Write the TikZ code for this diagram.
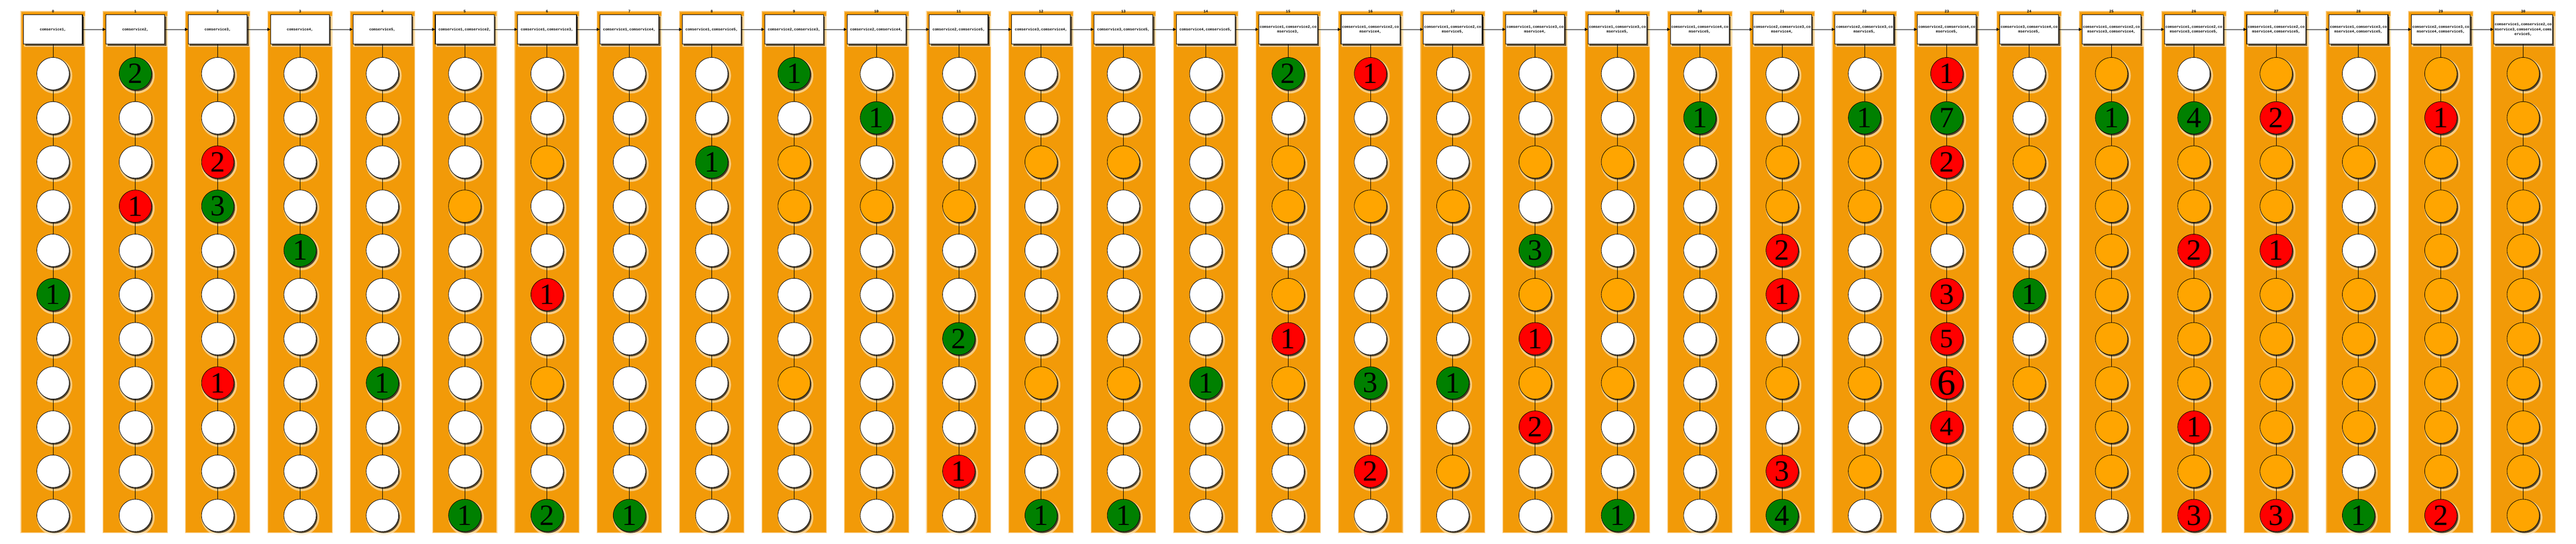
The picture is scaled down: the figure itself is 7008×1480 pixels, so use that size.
\documentclass[tikz,border=0pt]{standalone}
\usepackage{fontspec}
\setmonofont{Liberation Mono}
\newfontfamily\digfont{Liberation Serif}
\usetikzlibrary{shadows,arrows.meta}
\definecolor{colbg}{RGB}{242,154,8}
\definecolor{orfill}{RGB}{255,165,0}
\definecolor{gfill}{RGB}{0,128,0}
\definecolor{rfill}{RGB}{255,0,0}
\definecolor{halo}{RGB}{255,238,210}
\newcommand\mycol[3]{%
  \pgfmathsetmacro\cx{144.3+224*#1}%
  \fill[colbg,opacity=0.3] (\cx-89,30) rectangle (\cx+89,1451);
  \fill[colbg,opacity=0.6] (\cx-87.5,31.5) rectangle (\cx+87.5,1449.5);
  \fill[colbg] (\cx-86,33) rectangle (\cx+86,1448);
  \node[lbl] (l#1) at (\cx,31) {#1};
  \node[hdr] (h#1) at (\cx,80) {#2};
  \foreach \cs/\cn [count=\k from 0] in {#3} {
    \node[cell\cs] (c#1-\k) at (\cx,{200.3+120.2*\k}) {\ifnum\cn=0 \else\cn\fi};
  }
  \draw[vline] (h#1) -- (c#1-0);
  \foreach \k [evaluate=\k as \kk using int(\k+1)] in {0,...,9} {\draw[vline] (c#1-\k) -- (c#1-\kk);}
}
\begin{document}
\begin{tikzpicture}[x=0.25pt,y=-0.25pt,
  lbl/.style={inner sep=0pt,font=\ttfamily\bfseries\fontsize{2.5pt}{3pt}\selectfont},
  hdr/.style={draw=black,line width=0.4pt,fill=white,minimum width=40pt,minimum height=20pt,inner sep=0pt,align=center,
    font=\ttfamily\bfseries\fontsize{2.48pt}{3.3pt}\selectfont,
    drop shadow={shadow xshift=1.2pt,shadow yshift=-1.3pt,shadow scale=1.05,fill=halo,opacity=0.7},
    drop shadow={shadow xshift=1pt,shadow yshift=-1.1pt,fill=black,opacity=0.6}},
  cellbase/.style={circle,draw=black,line width=0.3pt,minimum size=22pt,inner sep=0pt,
    font=\digfont\fontsize{20pt}{20pt}\selectfont,
    drop shadow={shadow xshift=0.9pt,shadow yshift=-1.3pt,shadow scale=1.1,fill=halo,opacity=0.6},
    drop shadow={shadow xshift=0.8pt,shadow yshift=-1pt,fill=black,opacity=0.65}},
  cellw/.style={cellbase,fill=white},
  cello/.style={cellbase,fill=orfill},
  cellg/.style={cellbase,fill=gfill},
  cellr/.style={cellbase,fill=rfill},
  cellrs/.style={cellbase,fill=rfill,font=\digfont\fontsize{18pt}{18pt}\selectfont},
  cellrb/.style={cellbase,fill=rfill,font=\digfont\fontsize{25pt}{25pt}\selectfont},
  vline/.style={line width=0.3pt},
  arr/.style={line width=0.35pt,-{Triangle[length=2pt,width=2pt]}}]
\useasboundingbox (0,0) rectangle (7008,1480);
\mycol{0}{comservice1,}{w/0,w/0,w/0,w/0,w/0,g/1,w/0,w/0,w/0,w/0,w/0}
\mycol{1}{comservice2,}{g/2,w/0,w/0,r/1,w/0,w/0,w/0,w/0,w/0,w/0,w/0}
\mycol{2}{comservice3,}{w/0,w/0,r/2,g/3,w/0,w/0,w/0,r/1,w/0,w/0,w/0}
\mycol{3}{comservice4,}{w/0,w/0,w/0,w/0,g/1,w/0,w/0,w/0,w/0,w/0,w/0}
\mycol{4}{comservice5,}{w/0,w/0,w/0,w/0,w/0,w/0,w/0,g/1,w/0,w/0,w/0}
\mycol{5}{comservice1,comservice2,}{w/0,w/0,w/0,o/0,w/0,w/0,w/0,w/0,w/0,w/0,g/1}
\mycol{6}{comservice1,comservice3,}{w/0,w/0,o/0,w/0,w/0,r/1,w/0,o/0,w/0,w/0,g/2}
\mycol{7}{comservice1,comservice4,}{w/0,w/0,w/0,w/0,w/0,w/0,w/0,w/0,w/0,w/0,g/1}
\mycol{8}{comservice1,comservice5,}{w/0,w/0,g/1,w/0,w/0,w/0,w/0,w/0,w/0,w/0,w/0}
\mycol{9}{comservice2,comservice3,}{g/1,w/0,o/0,o/0,w/0,w/0,w/0,o/0,w/0,w/0,w/0}
\mycol{10}{comservice2,comservice4,}{w/0,g/1,w/0,o/0,w/0,w/0,w/0,w/0,w/0,w/0,w/0}
\mycol{11}{comservice2,comservice5,}{w/0,w/0,w/0,o/0,w/0,w/0,g/2,w/0,w/0,r/1,w/0}
\mycol{12}{comservice3,comservice4,}{w/0,w/0,o/0,w/0,w/0,w/0,w/0,o/0,w/0,w/0,g/1}
\mycol{13}{comservice3,comservice5,}{w/0,w/0,o/0,w/0,w/0,w/0,w/0,o/0,w/0,w/0,g/1}
\mycol{14}{comservice4,comservice5,}{w/0,w/0,w/0,w/0,w/0,w/0,w/0,g/1,w/0,w/0,w/0}
\mycol{15}{comservice1,comservice2,co\\mservice3,}{g/2,w/0,o/0,o/0,w/0,o/0,r/1,o/0,w/0,w/0,w/0}
\mycol{16}{comservice1,comservice2,co\\mservice4,}{r/1,w/0,w/0,o/0,w/0,w/0,w/0,g/3,w/0,r/2,w/0}
\mycol{17}{comservice1,comservice2,co\\mservice5,}{w/0,w/0,w/0,o/0,w/0,w/0,w/0,g/1,w/0,o/0,w/0}
\mycol{18}{comservice1,comservice3,co\\mservice4,}{w/0,w/0,o/0,w/0,g/3,o/0,r/1,o/0,r/2,w/0,w/0}
\mycol{19}{comservice1,comservice3,co\\mservice5,}{w/0,w/0,o/0,w/0,w/0,o/0,w/0,o/0,w/0,w/0,g/1}
\mycol{20}{comservice1,comservice4,co\\mservice5,}{w/0,g/1,w/0,w/0,w/0,w/0,w/0,w/0,w/0,w/0,w/0}
\mycol{21}{comservice2,comservice3,co\\mservice4,}{w/0,w/0,o/0,o/0,r/2,r/1,w/0,o/0,w/0,r/3,g/4}
\mycol{22}{comservice2,comservice3,co\\mservice5,}{w/0,g/1,o/0,o/0,w/0,w/0,w/0,o/0,w/0,o/0,w/0}
\mycol{23}{comservice2,comservice4,co\\mservice5,}{r/1,g/7,r/2,o/0,w/0,r/3,rs/5,rb/6,rs/4,o/0,w/0}
\mycol{24}{comservice3,comservice4,co\\mservice5,}{w/0,w/0,o/0,w/0,w/0,g/1,w/0,o/0,w/0,w/0,w/0}
\mycol{25}{comservice1,comservice2,co\\mservice3,comservice4,}{o/0,g/1,o/0,o/0,o/0,o/0,o/0,o/0,o/0,o/0,w/0}
\mycol{26}{comservice1,comservice2,co\\mservice3,comservice5,}{w/0,g/4,o/0,o/0,r/2,o/0,o/0,o/0,r/1,o/0,r/3}
\mycol{27}{comservice1,comservice2,co\\mservice4,comservice5,}{o/0,r/2,o/0,o/0,r/1,o/0,o/0,o/0,o/0,o/0,r/3}
\mycol{28}{comservice1,comservice3,co\\mservice4,comservice5,}{w/0,w/0,o/0,w/0,w/0,o/0,o/0,o/0,o/0,w/0,g/1}
\mycol{29}{comservice2,comservice3,co\\mservice4,comservice5,}{o/0,r/1,o/0,o/0,o/0,o/0,o/0,o/0,o/0,o/0,r/2}
\mycol{30}{comservice1,comservice2,co\\mservice3,comservice4,coms\\ervice5,}{o/0,o/0,o/0,o/0,o/0,o/0,o/0,o/0,o/0,o/0,o/0}
\foreach \i [evaluate=\i as \j using int(\i+1)] in {0,...,29} {\draw[arr] (h\i) -- (h\j);}
\end{tikzpicture}
\end{document}
